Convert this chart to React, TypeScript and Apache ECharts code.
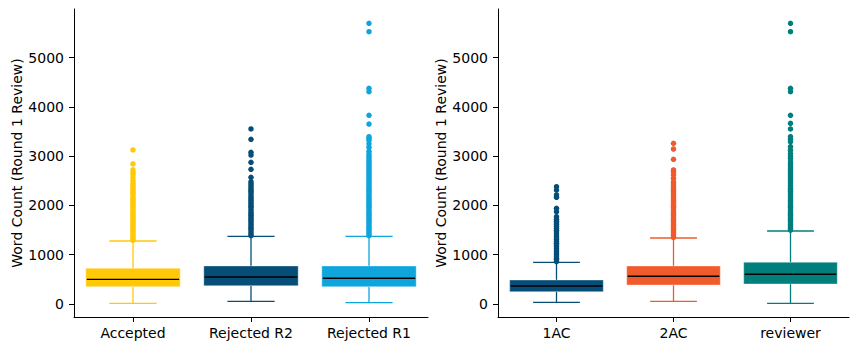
import { useEffect, useRef } from "react";
import * as echarts from "echarts";

const leftCategories = ["Accepted", "Rejected R2", "Rejected R1"];
const rightCategories = ["1AC", "2AC", "reviewer"];
const leftColors = ["#FFC907", "#064E77", "#0EA5DD"];
const rightColors = ["#064E77", "#F15A2B", "#017F7C"];
const yTicks = [0, 1000, 2000, 3000, 4000, 5000];
const yLabel = "Word Count (Round 1 Review)";

// [lower whisker, q1, median, q3, upper whisker]
const acceptedBox = [14, 351, 500, 724, 1278];
const rejectedR2Box = [54, 371, 548, 771, 1373];
const rejectedR1Box = [27, 351, 521, 771, 1373];
const ac1Box = [34, 250, 365, 487, 846];
const ac2Box = [54, 385, 562, 771, 1339];
const reviewerBox = [14, 406, 602, 846, 1481];

const acceptedOutliers = [1290, 1330, 1365, 1400, 1440, 1480, 1515, 1550, 1590, 1630, 1665, 1700, 1740, 1780, 1815, 1850, 1890, 1930, 1965, 2000, 2040, 2080, 2115, 2150, 2190, 2230, 2265, 2300, 2340, 2380, 2420, 2454, 2500, 2560, 2620, 2660, 2720, 2840, 3124];
const rejectedR2Outliers = [1385, 1420, 1460, 1500, 1535, 1570, 1610, 1650, 1685, 1720, 1760, 1800, 1835, 1870, 1910, 1950, 1985, 2020, 2060, 2100, 2135, 2170, 2210, 2250, 2285, 2320, 2360, 2400, 2440, 2480, 2570, 2732, 2874, 3022, 3077, 3340, 3550];
const rejectedR1Outliers = [1385, 1420, 1460, 1500, 1535, 1570, 1610, 1650, 1685, 1720, 1760, 1800, 1835, 1870, 1910, 1950, 1985, 2020, 2060, 2100, 2135, 2170, 2210, 2250, 2285, 2320, 2360, 2400, 2440, 2480, 2520, 2560, 2600, 2640, 2680, 2720, 2760, 2800, 2840, 2880, 2920, 2960, 3000, 3043, 3100, 3178, 3250, 3320, 3361, 3394, 3651, 3828, 4306, 4375, 5523, 5694];
const ac1Outliers = [860, 895, 930, 970, 1010, 1045, 1080, 1120, 1160, 1195, 1230, 1270, 1310, 1345, 1380, 1420, 1460, 1495, 1530, 1570, 1610, 1645, 1680, 1720, 1771, 1872, 1941, 2164, 2211, 2312, 2380];
const ac2Outliers = [1350, 1385, 1420, 1460, 1500, 1535, 1570, 1610, 1650, 1685, 1720, 1760, 1800, 1835, 1870, 1910, 1950, 1985, 2020, 2060, 2100, 2135, 2170, 2210, 2250, 2285, 2320, 2360, 2400, 2440, 2481, 2550, 2620, 2680, 2718, 2935, 3144, 3259];
const reviewerOutliers = [1500, 1535, 1570, 1610, 1650, 1685, 1720, 1760, 1800, 1835, 1870, 1910, 1950, 1985, 2020, 2060, 2100, 2135, 2170, 2210, 2250, 2285, 2320, 2360, 2400, 2440, 2480, 2520, 2560, 2600, 2640, 2680, 2720, 2760, 2800, 2840, 2887, 2950, 2990, 3050, 3120, 3192, 3292, 3340, 3394, 3550, 3665, 3828, 4306, 4375, 5523, 5694];

const leftBoxes = [acceptedBox, rejectedR2Box, rejectedR1Box];
const rightBoxes = [ac1Box, ac2Box, reviewerBox];
const leftOutliers = [acceptedOutliers, rejectedR2Outliers, rejectedR1Outliers];
const rightOutliers = [ac1Outliers, ac2Outliers, reviewerOutliers];

const FONT = "DejaVu Sans";
const FS = 14;

function makeRenderItem(colors: string[]) {
  return (params: any, api: any) => {
    const idx = api.value(0);
    const lo = api.value(1);
    const q1 = api.value(2);
    const med = api.value(3);
    const q3 = api.value(4);
    const hi = api.value(5);
    const band = api.size([1, 0])[0];
    const bw = band * 0.8;
    const cw = band * 0.4;
    const pLo = api.coord([idx, lo]);
    const pQ1 = api.coord([idx, q1]);
    const pMed = api.coord([idx, med]);
    const pQ3 = api.coord([idx, q3]);
    const pHi = api.coord([idx, hi]);
    const x = pLo[0];
    const color = colors[idx];
    const ls = { stroke: color, lineWidth: 1.3 };
    return {
      type: "group",
      children: [
        { type: "line", shape: { x1: x, y1: pQ3[1], x2: x, y2: pHi[1] }, style: ls },
        { type: "line", shape: { x1: x, y1: pQ1[1], x2: x, y2: pLo[1] }, style: ls },
        { type: "line", shape: { x1: x - cw / 2, y1: pHi[1], x2: x + cw / 2, y2: pHi[1] }, style: ls },
        { type: "line", shape: { x1: x - cw / 2, y1: pLo[1], x2: x + cw / 2, y2: pLo[1] }, style: ls },
        {
          type: "rect",
          shape: { x: x - bw / 2, y: pQ3[1], width: bw, height: pQ1[1] - pQ3[1] },
          style: { fill: color, stroke: "rgba(255,255,255,0.35)", lineWidth: 1 },
        },
        { type: "line", shape: { x1: x - bw / 2 + 1, y1: pMed[1], x2: x + bw / 2 - 1, y2: pMed[1] }, style: { stroke: "#000", lineWidth: 1.4 } },
      ],
    };
  };
}

function buildSeries(boxes: number[][], outliers: number[][], colors: string[], axisIndex: number) {
  const boxData = boxes.map((b, i) => [i, ...b]);
  const scatterData: any[] = [];
  outliers.forEach((arr, i) => {
    arr.forEach((v) => {
      scatterData.push({ value: [i, v], itemStyle: { color: colors[i], opacity: 1 } });
    });
  });
  return [
    {
      type: "custom",
      xAxisIndex: axisIndex,
      yAxisIndex: axisIndex,
      renderItem: makeRenderItem(colors),
      encode: { x: 0, y: [1, 2, 3, 4, 5] },
      data: boxData,
      z: 2,
    },
    {
      type: "scatter",
      xAxisIndex: axisIndex,
      yAxisIndex: axisIndex,
      symbol: "circle",
      symbolSize: 5.5,
      itemStyle: { opacity: 1 },
      data: scatterData,
      z: 3,
    },
  ];
}

function xAxisDef(cats: string[], gridIndex: number) {
  return {
    type: "category",
    gridIndex,
    data: cats,
    boundaryGap: true,
    axisLine: { show: true, onZero: false, lineStyle: { color: "#000", width: 1 } },
    axisTick: { show: true, alignWithLabel: true, length: 5, lineStyle: { color: "#000", width: 1 } },
    axisLabel: { color: "#000", fontFamily: FONT, fontSize: FS, margin: 9 },
    splitLine: { show: false },
  };
}

function yAxisDef(gridIndex: number) {
  return {
    type: "value",
    gridIndex,
    min: -264,
    max: 5984,
    name: yLabel,
    nameLocation: "middle",
    nameGap: 49,
    nameTextStyle: { color: "#000", fontFamily: FONT, fontSize: FS },
    axisLine: { show: true, lineStyle: { color: "#000", width: 1 } },
    axisTick: { show: true, length: 5, customValues: yTicks, lineStyle: { color: "#000", width: 1 } },
    axisLabel: {
      color: "#000",
      fontFamily: FONT,
      fontSize: FS,
      margin: 10,
      customValues: yTicks,
      formatter: (v: number) => String(v),
    },
    splitLine: { show: false },
  };
}

export default function App() {
  const ref = useRef<HTMLDivElement>(null);
  useEffect(() => {
    if (!ref.current) return;
    const chart = echarts.init(ref.current, null, { renderer: "svg" });
    chart.setOption({
      animation: false,
      backgroundColor: "#fff",
      grid: [
        { left: 74, top: 9, width: 354, height: 308 },
        { left: 498, top: 9, width: 351, height: 308 },
      ],
      xAxis: [xAxisDef(leftCategories, 0), xAxisDef(rightCategories, 1)],
      yAxis: [yAxisDef(0), yAxisDef(1)],
      series: [
        ...buildSeries(leftBoxes, leftOutliers, leftColors, 0),
        ...buildSeries(rightBoxes, rightOutliers, rightColors, 1),
      ],
    });
    return () => chart.dispose();
  }, []);
  return <div ref={ref} style={{ position: "fixed", left: 0, top: 0, width: 859, height: 351 }} />;
}
